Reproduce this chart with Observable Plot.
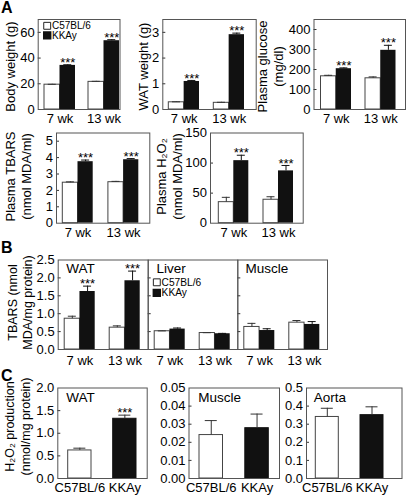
<!DOCTYPE html>
<html><head><meta charset="utf-8">
<script src="https://cdn.jsdelivr.net/npm/d3@7"></script>
<script src="https://cdn.jsdelivr.net/npm/@observablehq/plot@0.6"></script>
<style>
body{margin:0;background:#fff;}
#fig{position:relative;width:407px;height:502px;overflow:hidden;font-family:"Liberation Sans",Arial,Helvetica,sans-serif;}
#fig svg{position:absolute;left:0;top:0;}
.letter{position:absolute;font-weight:bold;font-size:16px;line-height:16px;font-family:"Liberation Sans",Arial,sans-serif;}
</style></head><body><div id="fig"></div>
<script>
const W = 407, H = 502;
const FONT = "'Liberation Sans', Arial, Helvetica, sans-serif";
const weeks = ["7 wk", "13 wk"];
const strains = ["C57BL/6", "KKAy"];

// Panel A — order: 7 wk C57BL/6, 7 wk KKAy, 13 wk C57BL/6, 13 wk KKAy
const bodyWeight = [19.3, 34.3, 21.5, 53.5];
const bodyWeightErr = [0.3, 0.5, 0.4, 0.8];
const watWeight = [0.28, 1.09, 0.26, 2.91];
const watWeightErr = [0.02, 0.04, 0.02, 0.06];
const glucose = [166, 204, 156, 296];
const glucoseErr = [5, 4, 7, 25];
const plasmaTbars = [2.47, 3.75, 2.5, 3.87];
const plasmaTbarsErr = [0.05, 0.1, 0.05, 0.07];
const plasmaH2o2 = [35, 104, 39, 87];
const plasmaH2o2Err = [8, 9, 5, 9];
const starsA = ["", "***", "", "***"];

// Panel B — TBARS (nmol MDA/mg protein)
const tbarsWat = [0.86, 1.62, 0.61, 1.92];
const tbarsWatErr = [0.07, 0.15, 0.05, 0.27];
const tbarsLiver = [0.51, 0.57, 0.46, 0.44];
const tbarsLiverErr = [0.01, 0.03, 0.01, 0.01];
const tbarsMuscle = [0.63, 0.53, 0.75, 0.7];
const tbarsMuscleErr = [0.1, 0.05, 0.06, 0.08];
const starsB = ["", "***", "", "***"];
const starsNone = ["", "", "", ""];

// Panel C — order: C57BL/6, KKAy
const h2o2Wat = [0.62, 1.32];
const h2o2WatErr = [0.05, 0.08];
const h2o2Muscle = [0.024, 0.0278];
const h2o2MuscleErr = [0.008, 0.0078];
const h2o2Aorta = [0.34, 0.35];
const h2o2AortaErr = [0.048, 0.046];
const starsC = ["", "***"];

const EDGE = "#555";
const BLACK = "#111";

function bandOpts(domain, b0, b1, bw) {
  const step = b1 - b0 - bw;
  return {type: "band", domain, range: [b0, b1], paddingInner: 1 - bw / step, paddingOuter: 0, align: 0.5, round: false, label: null};
}

function commonMarks(o) {
  const [x0, x1, y0, y1] = o.frame;
  const m = [];
  m.push(Plot.ruleY(o.ticks.filter(t => t > 0 && t < o.max), {y: d => d, insetRight: (x1 - x0) - 3, stroke: "#333", strokeWidth: 1}));
  if (o.yLabels !== false) m.push(Plot.axisY({ticks: o.ticks, tickSize: 0, tickPadding: 3.5, tickFormat: o.fmt ?? "d", fontSize: 13, label: null}));
  m.push(Plot.axisX({tickSize: 0, tickPadding: o.xPad ?? 4.5, fontSize: 13, label: null}));
  if (o.title) m.push(Plot.text([o.title], {text: d => d, frameAnchor: "left", rotate: -90,
    dx: o.titleX - x0, dy: o.titleY - (y0 + y1) / 2, fontSize: o.titleSize ?? 13,
    lineHeight: o.lh ?? 1.25, textAnchor: "middle", lineAnchor: "middle"}));
  if (o.label) m.push(Plot.text([o.label], {text: d => d, frameAnchor: "top-left", dx: o.labelDx, dy: o.labelDy,
    fontSize: 13.5, textAnchor: "start", lineAnchor: "middle"}));
  if (o.legend) {
    const [sdx, sdy, gap, fs] = o.legend;
    m.push(Plot.dot([0], {frameAnchor: "top-left", dx: sdx, dy: sdy, symbol: "square", r: 3.9, fill: "white", stroke: "#222", strokeWidth: 1}));
    m.push(Plot.dot([0], {frameAnchor: "top-left", dx: sdx, dy: sdy + gap, symbol: "square", r: 3.9, fill: BLACK, stroke: BLACK}));
    m.push(Plot.text([strains[0]], {text: d => d, frameAnchor: "top-left", dx: sdx + 4.8, dy: sdy, fontSize: fs, textAnchor: "start", lineAnchor: "middle"}));
    m.push(Plot.text([strains[1]], {text: d => d, frameAnchor: "top-left", dx: sdx + 4.8, dy: sdy + gap, fontSize: fs, textAnchor: "start", lineAnchor: "middle"}));
  }
  m.push(Plot.frame({stroke: EDGE, strokeWidth: 1}));
  return m;
}

function render(o, xScale, marks) {
  const [x0, x1, y0, y1] = o.frame;
  const y = {domain: [0, o.max], label: null};
  if (o.yLabels === false) y.axis = null;
  return Plot.plot({
    width: W, height: H,
    marginLeft: x0, marginRight: W - x1, marginTop: y0, marginBottom: H - y1,
    x: xScale,
    y,
    style: {background: "transparent", overflow: "visible", fontFamily: FONT, fontSize: "13px", color: "#000"},
    marks: [...marks, ...commonMarks(o)]
  });
}

function grouped(o) {
  const [b0, b1, bw] = o.bands;
  const rows = weeks.flatMap((w, i) => strains.map((s, j) => ({week: w, strain: s, value: o.values[i * 2 + j], err: o.errs[i * 2 + j], star: o.stars[i * 2 + j]})));
  const wr = rows.filter(d => d.strain === strains[0]);
  const kr = rows.filter(d => d.strain === strains[1]);
  const q = bw / 4, cap = o.cap ?? 8;
  const marks = [
    Plot.barY(wr, {x: "week", y: "value", fill: "white", stroke: "#444", strokeWidth: 1, insetRight: bw / 2}),
    Plot.barY(kr, {x: "week", y: "value", fill: BLACK, insetLeft: bw / 2}),
    Plot.ruleX(wr, {x: "week", y1: "value", y2: d => d.value + d.err, dx: -q, stroke: "#333"}),
    Plot.ruleX(kr, {x: "week", y1: "value", y2: d => d.value + d.err, dx: q, stroke: BLACK}),
    Plot.tickY(wr, {x: "week", y: d => d.value + d.err, insetLeft: q - cap / 2, insetRight: 3 * q - cap / 2, stroke: "#333"}),
    Plot.tickY(kr, {x: "week", y: d => d.value + d.err, insetLeft: 3 * q - cap / 2, insetRight: q - cap / 2, stroke: BLACK}),
    Plot.text(wr.filter(d => d.star), {x: "week", y: d => d.value + d.err, text: "star", dx: -q, dy: -2, fontSize: 13, lineAnchor: "middle"}),
    Plot.text(kr.filter(d => d.star), {x: "week", y: d => d.value + d.err, text: "star", dx: q, dy: -2, fontSize: 13, lineAnchor: "middle"})
  ];
  return render(o, bandOpts(weeks, b0, b1, bw), marks);
}

function single(o) {
  const [b0, b1, bw] = o.bands;
  const rows = strains.map((s, j) => ({strain: s, value: o.values[j], err: o.errs[j], star: o.stars[j]}));
  const cap = o.cap ?? 12;
  const ins = (bw - cap) / 2;
  const marks = [
    Plot.barY(rows, {x: "strain", y: "value", fill: d => d.strain === strains[0] ? "white" : BLACK, stroke: d => d.strain === strains[0] ? "#444" : BLACK, strokeWidth: 1}),
    Plot.ruleX(rows, {x: "strain", y1: "value", y2: d => d.value + d.err, stroke: "#333"}),
    Plot.tickY(rows, {x: "strain", y: d => d.value + d.err, insetLeft: ins, insetRight: ins, stroke: "#333"}),
    Plot.text(rows.filter(d => d.star), {x: "strain", y: d => d.value + d.err, text: "star", dy: -2, fontSize: 13, lineAnchor: "middle"})
  ];
  return render(o, bandOpts(strains, b0, b1, bw), marks);
}

const fig = document.getElementById("fig");
const add = el => fig.appendChild(el);

// Row A1
add(grouped({frame: [37.7, 119.5, 19, 109], bands: [44, 119, 31], max: 70, ticks: [0, 20, 40, 60],
  values: bodyWeight, errs: bodyWeightErr, stars: starsA, title: "Body weight (g)", titleX: 9, titleY: 66,
  legend: [9, 6.3, 9.6, 10]}));
add(grouped({frame: [162.3, 255.7, 19, 109], bands: [168.3, 244, 30.7], max: 3.5, ticks: [0, 1, 2, 3],
  values: watWeight, errs: watWeightErr, stars: starsA, title: "WAT weight (g)", titleX: 142, titleY: 66}));
add(grouped({frame: [313.5, 405, 19, 109], bands: [320.5, 395.5, 30.5], max: 450, ticks: [0, 100, 200, 300, 400],
  values: glucose, errs: glucoseErr, stars: starsA, title: "Plasma glucose\n(mg/dl)", titleX: 269, titleY: 66}));
// Row A2
add(grouped({frame: [56, 149.3, 132.5, 222.7], bands: [62.3, 138.3, 30.4], max: 5.5, ticks: [0, 1, 2, 3, 4, 5],
  values: plasmaTbars, errs: plasmaTbarsErr, stars: starsA, title: "Plasma TBARS\n(nmol MDA/ml)", titleX: 17, titleY: 176}));
add(grouped({frame: [210, 302.7, 132.5, 222.7], bands: [218.3, 293, 30], max: 150, ticks: [0, 50, 100, 150],
  values: plasmaH2o2, errs: plasmaH2o2Err, stars: starsA, title: "Plasma H\u2082O\u2082\n(nmol MDA/ml)", titleX: 168, titleY: 176}));
// Row B
const bTicks = [0, 0.5, 1, 1.5, 2, 2.5];
add(grouped({frame: [57.7, 147.7, 259.5, 349], bands: [64.2, 139.7, 30.5], max: 2.5, ticks: bTicks, fmt: ".1f", xPad: 6,
  values: tbarsWat, errs: tbarsWatErr, stars: starsB, title: "TBARS (nmol\nMDA/mg protein)", titleX: 19, titleY: 302, titleSize: 12.5,
  label: "WAT", labelDx: 8, labelDy: 8.5}));
add(grouped({frame: [147.7, 237.3, 259.5, 349], bands: [154.2, 229.7, 30.5], max: 2.5, ticks: bTicks, yLabels: false, xPad: 6,
  values: tbarsLiver, errs: tbarsLiverErr, stars: starsNone, label: "Liver", labelDx: 8.3, labelDy: 8.5,
  legend: [8.6, 22.3, 10.6, 10.2]}));
add(grouped({frame: [237.3, 327, 259.5, 349], bands: [243.8, 319.3, 30.5], max: 2.5, ticks: bTicks, yLabels: false, xPad: 6,
  values: tbarsMuscle, errs: tbarsMuscleErr, stars: starsNone, label: "Muscle", labelDx: 7.7, labelDy: 8.5}));
// Row C
add(single({frame: [57.3, 146.7, 387.5, 478], bands: [67.7, 136, 23.3], max: 2, ticks: [0, 0.5, 1, 1.5, 2], fmt: ".1f", xPad: 4,
  values: h2o2Wat, errs: h2o2WatErr, stars: starsC, title: "H\u2082O\u2082 production\n(nmol/mg protein)", titleX: 16.5, titleY: 426, titleSize: 12.5,
  label: "WAT", labelDx: 8.4, labelDy: 9.5}));
add(single({frame: [188.5, 279, 387.5, 478], bands: [199, 268.3, 23.5], max: 0.05, ticks: [0, 0.01, 0.02, 0.03, 0.04, 0.05], fmt: ".2f", xPad: 4,
  values: h2o2Muscle, errs: h2o2MuscleErr, stars: ["", ""], label: "Muscle", labelDx: 9.2, labelDy: 9.5}));
add(single({frame: [306, 401.5, 387.5, 478], bands: [315.3, 383, 23], max: 0.5, ticks: [0, 0.1, 0.2, 0.3, 0.4, 0.5], fmt: ".1f", xPad: 4,
  values: h2o2Aorta, errs: h2o2AortaErr, stars: ["", ""], label: "Aorta", labelDx: 7.3, labelDy: 9.5}));

// Panel letters
[["A", 1, 0], ["B", 1, 240], ["C", 1, 368]].forEach(([t, x, y]) => {
  const d = document.createElement("div");
  d.className = "letter"; d.textContent = t;
  d.style.left = x + "px"; d.style.top = y + "px";
  fig.appendChild(d);
});
</script>
</body></html>
